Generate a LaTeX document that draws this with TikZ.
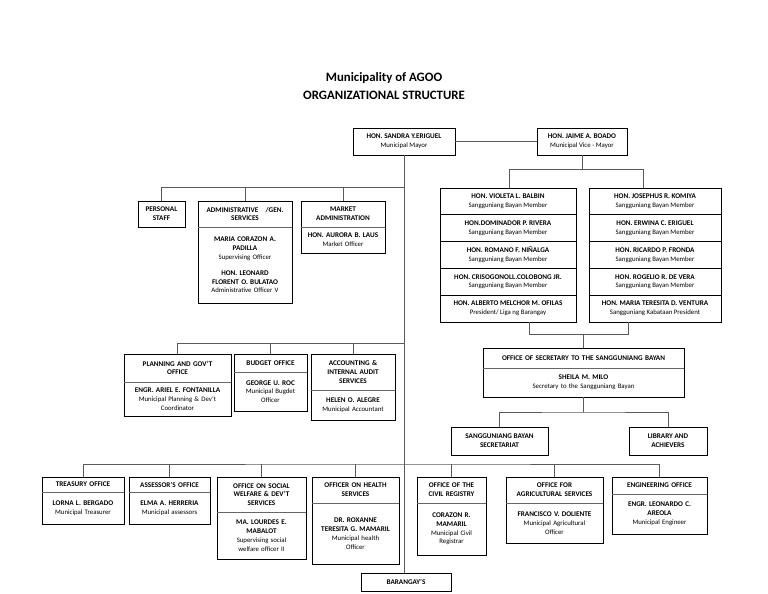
\documentclass[tikz,border=0pt]{standalone}
\usepackage{fontspec}
\setmainfont{Carlito}
\usetikzlibrary{positioning,fit}

\tikzset{
  frame/.style={draw, line width=0.8pt, inner sep=0pt, outer sep=0pt},
  split/.style={draw=black!60, line width=0.7pt},
  link/.style={draw=black!65, line width=0.7pt},
  head/.style={font=\fontsize{7.2}{8.8}\selectfont\bfseries, align=center, inner sep=0pt},
  body/.style={font=\fontsize{6.8}{8.8}\selectfont, align=center, inner sep=0pt},
  member/.style={frame, minimum height=26.8pt, align=center, font=\fontsize{6.8}{8.8}\selectfont},
  title/.style={font=\fontsize{12.8}{15}\selectfont\bfseries}
}
\newcommand{\who}[1]{{\fontsize{7.2}{8.8}\selectfont\bfseries #1}}
% box with heading and body: name, left, top, right, bottom, divider, heading, body
\newcommand{\office}[8]{%
  \pgfmathsetmacro\officew{#4-#2-3}
  \node[frame, fit={(#2,#3) (#4,#5)}] (#1) {};
  \draw[split] (#2,#6) -- (#4,#6);
  \node[head, text width=\officew pt] at ({(#2+#4)/2},{(#3+#6)/2}) {#7};
  \node[body, text width=\officew pt] at ({(#2+#4)/2},{(#5+#6)/2}) {#8};
}

\begin{document}
\begin{tikzpicture}[x=1pt, y=-1pt]
    \useasboundingbox[fill=white] (0,0) rectangle (768,594);
    % Title
    \node[title] (ttl1) at (384,78) {Municipality of AGOO};
    \node[title] (ttl2) at (384,95) {ORGANIZATIONAL STRUCTURE};

    % Mayor and vice mayor
    \node[frame, body, minimum width=102pt, minimum height=27pt] (mayor) at (404,141.5)
        {\who{HON. SANDRA Y.ERIGUEL}\\Municipal Mayor};
    \node[frame, body, minimum width=90pt, minimum height=27pt] (vice) at (582,141.5)
        {\who{HON. JAIME A. BOADO}\\Municipal Vice - Mayor};

    % Sangguniang Bayan members
    \node[member, minimum width=136pt] (sbA1) at (508,201.4) {\who{HON. VIOLETA L. BALBIN}\\Sangguniang Bayan Member};
    \node[member, minimum width=136pt, below=0pt of sbA1] (sbA2) {\who{HON.DOMINADOR P. RIVERA}\\Sangguniang Bayan Member};
    \node[member, minimum width=136pt, below=0pt of sbA2] (sbA3) {\who{HON. ROMANO F. NIÑALGA}\\Sangguniang Bayan Member};
    \node[member, minimum width=136pt, below=0pt of sbA3] (sbA4) {\who{HON. CRISOGONOLL.COLOBONG JR.}\\Sangguniang Bayan Member};
    \node[member, minimum width=136pt, below=0pt of sbA4] (sbA5) {\who{HON. ALBERTO MELCHOR M. OFILAS}\\President/ Liga ng Barangay};
    \node[member, minimum width=132pt] (sbB1) at (655,201.4) {\who{HON. JOSEPHUS R. KOMIYA}\\Sangguniang Bayan Member};
    \node[member, minimum width=132pt, below=0pt of sbB1] (sbB2) {\who{HON. ERWINA C. ERIGUEL}\\Sangguniang Bayan Member};
    \node[member, minimum width=132pt, below=0pt of sbB2] (sbB3) {\who{HON. RICARDO P. FRONDA}\\Sangguniang Bayan Member};
    \node[member, minimum width=132pt, below=0pt of sbB3] (sbB4) {\who{HON. ROGELIO R. DE VERA}\\Sangguniang Bayan Member};
    \node[member, minimum width=132pt, below=0pt of sbB4] (sbB5) {\who{HON. MARIA TERESITA D. VENTURA}\\Sangguniang Kabataan President};

    % Secretary to the Sangguniang Bayan
    \office{secretary}{483}{348}{684}{397}{368}{OFFICE OF SECRETARY TO THE SANGGUNIANG BAYAN}
        {\who{SHEILA M. MILO}\\Secretary to the Sangguniang Bayan}
    \node[frame, head, minimum width=97pt, minimum height=28pt] (secretariat) at (499.5,441) {SANGGUNIANG BAYAN\\SECRETARIAT};
    \node[frame, head, minimum width=78pt, minimum height=28pt] (library) at (668,441) {LIBRARY AND\\ACHIEVERS};

    % First row of offices
    \node[frame, head, minimum width=47pt, minimum height=26pt] (staff) at (161.5,214) {PERSONAL\\STAFF};
    \office{admin}{198}{201}{292}{303}{227}{ADMINISTRATIVE\hspace{1em}/GEN.\\SERVICES}
        {\who{MARIA CORAZON A.\\PADILLA}\\Supervising Officer\\[7pt]\who{HON. LEONARD\\FLORENT O. BULATAO}\\Administrative Officer V}
    \office{market}{301}{201}{385}{253}{227}{MARKET\\ADMINISTRATION}
        {\who{HON. AURORA B. LAUS}\\Market Officer}

    % Second row of offices
    \office{planning}{124}{354}{231}{416}{382}{PLANNING AND GOV'T\\OFFICE}
        {\who{ENGR. ARIEL E. FONTANILLA}\\Municipal Planning \& Dev't\\Coordinator}
    \office{budget}{234}{354}{307}{411}{372}{BUDGET OFFICE}
        {\who{GEORGE U. ROC}\\Municipal Bugdet\\Officer}
    \office{accounting}{311}{354}{395}{420}{390}{ACCOUNTING \&\\INTERNAL AUDIT\\SERVICES}
        {\who{HELEN O. ALEGRE}\\Municipal Accountant}

    % Third row of offices
    \office{treasury}{42}{477}{124}{524}{492}{TREASURY OFFICE}
        {\who{LORNA L. BERGADO}\\Municipal Treasurer}
    \office{assessor}{129}{477}{210}{524}{492}{ASSESSOR'S OFFICE}
        {\who{ELMA A. HERRERIA}\\Municipal assessors}
    \office{welfare}{217}{477}{306}{559}{512}{OFFICE ON SOCIAL\\WELFARE \& DEV'T\\SERVICES}
        {\who{MA. LOURDES E.\\MABALOT}\\Supervising social\\welfare officer II}
    \office{health}{312}{477}{399}{564}{503}{OFFICER ON HEALTH\\SERVICES}
        {\who{DR. ROXANNE\\TERESITA G. MAMARIL}\\Municipal health\\Officer}
    \office{registry}{417}{477}{486}{555}{503}{OFFICE OF THE\\CIVIL REGISTRY}
        {\who{CORAZON R.\\MAMARIL}\\Municipal Civil\\Registrar}
    \office{agri}{506}{477}{603}{543}{503}{OFFICE FOR\\AGRICULTURAL SERVICES}
        {\who{FRANCISCO V. DOLIENTE}\\Municipal Agricultural\\Officer}
    \office{engineering}{612}{477}{707}{534}{494}{ENGINEERING OFFICE}
        {\who{ENGR. LEONARDO C.\\AREOLA}\\Municipal Engineer}

    \node[frame, head, minimum width=90pt, minimum height=18pt] (barangay) at (406,582) {BARANGAY'S};

    % Bus points
    \coordinate (bus1) at (404,187);
    \coordinate (bus2) at (404,343);
    \coordinate (bus3) at (404,464);
    \coordinate (cA) at (509,169);
    \coordinate (cB) at (643,169);
    \coordinate (dA) at (529,334);
    \coordinate (dB) at (628,334);
    \coordinate (sbus) at (583.5,412);

    % Main line
    \draw[link] (mayor.east) -- (vice.west);
    \draw[link] (mayor.south) -- (mayor.south |- barangay.north);
    % Council
    \draw[link] (vice.south) -- (vice.south |- cA);
    \draw[link] (cA |- sbA1.north) -- (cA) -- (cB) -- (cB |- sbB1.north);
    \draw[link] (dA |- sbA5.south) -- (dA) -- (dB) -- (dB |- sbB5.south);
    \draw[link] (secretary.north) -- (secretary.north |- dA);
    \draw[link] (secretary.south) -- (sbus);
    \draw[link] (secretariat.north) |- (sbus) -| (library.north);
    % Rows
    \draw[link] (staff.north) |- (bus1);
    \draw[link] (admin.north) -- (admin.north |- bus1);
    \draw[link] (market.north) -- (market.north |- bus1);
    \draw[link] (planning.north) |- (bus2);
    \draw[link] (budget.north) -- (budget.north |- bus2);
    \draw[link] (accounting.north) -- (accounting.north |- bus2);
    \draw[link] (treasury.north) |- (bus3) -| (engineering.north);
    \foreach \o in {assessor, welfare, health, registry, agri}
        \draw[link] (\o.north) -- (\o.north |- bus3);
\end{tikzpicture}
\end{document}
